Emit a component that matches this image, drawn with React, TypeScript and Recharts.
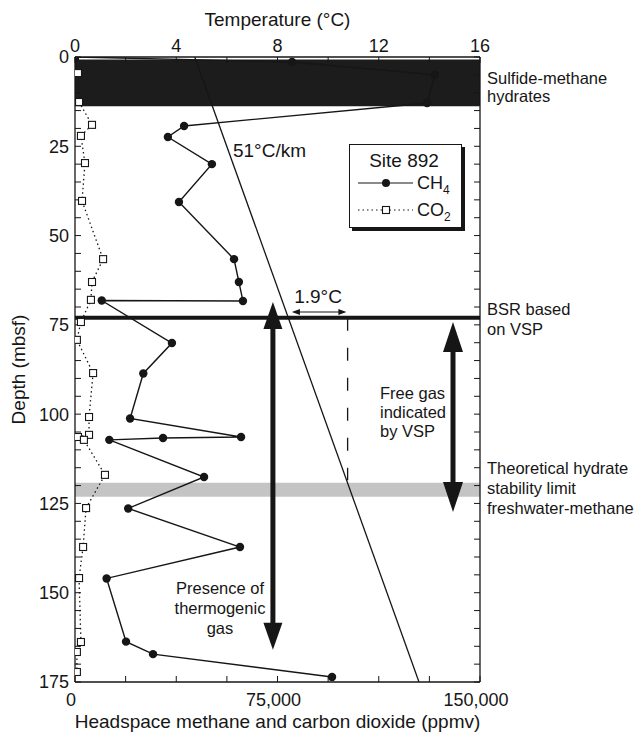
import {
  ScatterChart, Scatter, XAxis, YAxis, ReferenceArea, ReferenceLine, ReferenceDot, Legend
} from 'recharts';

document.body.style.margin = '0';

const FONT = '"Liberation Sans", Arial, Helvetica, sans-serif';
const INK = '#161616';

// headspace CH4 (ppmv) against depth (mbsf), in drilling order
const ch4Depth = [0, 1.4, 5.0, 12.9, 19.3, 22.4, 30.0, 40.6, 56.6, 63.0, 68.3, 68.2, 80.1, 88.6, 101.2, 106.4, 106.7, 107.2, 117.6, 126.4, 137.2, 146.0, 163.7, 167.2, 173.6];
const ch4Ppmv = [0, 80400, 133300, 130400, 40400, 34400, 50700, 38500, 58900, 60700, 62200, 9900, 35900, 25300, 20400, 61500, 32600, 12700, 47800, 19700, 61100, 11700, 18900, 28900, 95200];

// headspace CO2 (ppmv)
const co2Depth = [0, 4.5, 12.6, 19.0, 22.1, 29.7, 40.3, 56.6, 63.0, 68.0, 74.2, 79.2, 88.5, 100.8, 105.8, 106.4, 107.2, 117.0, 126.3, 137.2, 145.9, 163.8, 166.6, 172.2];
const co2Ppmv = [0, 1100, 1500, 6300, 2200, 3700, 2600, 10400, 6300, 5900, 2200, 700, 6700, 5200, 5200, 1100, 3300, 11100, 4100, 3000, 1500, 2200, 700, 700];

// 51 °C/km gradient, end points
const gradDepth = [0, 175];
const gradTemp = [4.73, 13.59];

const tempTicks = [0, 2, 4, 6, 8, 10, 12, 14, 16];
const ppmTicks = [0, 18750, 37500, 56250, 75000, 93750, 112500, 131250, 150000];
const depthTicks = Array.from({ length: 36 }, (_, i) => i * 5);

const hydrateBand = [0.7, 13.8];
const bsrDepth = 73;
const stabilityBand = [119.2, 123.1];

const ch4 = ch4Depth.map((depth, i) => ({ depth, ppm: ch4Ppmv[i] }));
const co2 = co2Depth.map((depth, i) => ({ depth, ppm: co2Ppmv[i] }));
const grad = gradDepth.map((depth, i) => ({ depth, temp: gradTemp[i] }));

const fmtPpm = (v: number) => (v % 75000 === 0 ? String(v).replace(/\B(?=(\d{3})+(?!\d))/g, ',') : '');

const stacked = (lines: string[], o: { dx?: number; dy?: number; gap?: number; anchor?: string; size?: number }) =>
  (props: any) => {
    const vb = props.viewBox || {};
    const x = (vb.x ?? 0) + (vb.width ?? 0) + (o.dx ?? 0);
    const y = (vb.y ?? 0) + (vb.height ?? 0) / 2 + (o.dy ?? 0);
    return (
      <text x={x} y={y} textAnchor={o.anchor ?? 'start'} fontSize={o.size ?? 16.5} fill={INK} fontFamily={FONT}>
        {lines.map((l, i) => (
          <tspan key={i} x={x} dy={i === 0 ? 0 : o.gap ?? 19}>{l}</tspan>
        ))}
      </text>
    );
  };

const bigArrow = (head: number, width: number) => (p: any) => {
  const top = Math.min(p.y1, p.y2);
  const bot = Math.max(p.y1, p.y2);
  const x = p.x1;
  return (
    <g>
      <line x1={x} x2={x} y1={top + head - 2} y2={bot - head + 2} stroke={INK} strokeWidth={5} />
      <polygon points={`${x},${top} ${x - width / 2},${top + head} ${x + width / 2},${top + head}`} fill={INK} />
      <polygon points={`${x},${bot} ${x - width / 2},${bot - head} ${x + width / 2},${bot - head}`} fill={INK} />
    </g>
  );
};

const thinArrow = (p: any) => {
  const l = Math.min(p.x1, p.x2);
  const r = Math.max(p.x1, p.x2);
  const y = p.y1;
  return (
    <g>
      <line x1={l + 2} x2={r - 2} y1={y} y2={y} stroke={INK} strokeWidth={1.1} />
      <polygon points={`${l},${y} ${l + 8},${y - 3} ${l + 8},${y + 3}`} fill={INK} />
      <polygon points={`${r},${y} ${r - 8},${y - 3} ${r - 8},${y + 3}`} fill={INK} />
    </g>
  );
};

const Dot = (p: any) => <circle cx={p.cx} cy={p.cy} r={4.2} fill={INK} />;
const Square = (p: any) => (
  <rect x={p.cx - 3.5} y={p.cy - 3.5} width={7} height={7} fill="#fff" stroke={INK} strokeWidth={1.1} />
);
const NoMark = () => <g />;

const SiteLegend = () => (
  <div style={{ width: 113, height: 84, boxSizing: 'border-box', border: `1px solid ${INK}`, boxShadow: `3px 3px 0 ${INK}`, background: '#fff' }}>
    <svg width={111} height={82} style={{ display: 'block' }} fontFamily={FONT}>
      <text x={54} y={22} textAnchor="middle" fontSize={19} fill={INK}>Site 892</text>
      <line x1={8} x2={63} y1={38} y2={38} stroke={INK} strokeWidth={1.2} />
      <circle cx={36} cy={38} r={4} fill={INK} />
      <text x={67} y={44} fontSize={18} fill={INK}>CH<tspan fontSize={12} dy={5}>4</tspan></text>
      <line x1={8} x2={63} y1={65} y2={65} stroke={INK} strokeWidth={1.2} strokeDasharray="1.5 3" />
      <rect x={32.5} y={61.5} width={7} height={7} fill="#fff" stroke={INK} strokeWidth={1.1} />
      <text x={67} y={71} fontSize={18} fill={INK}>CO<tspan fontSize={12} dy={5}>2</tspan></text>
    </svg>
  </div>
);

const tick = { fontSize: 18, fill: INK };
const axisLine = { stroke: INK, strokeWidth: 1.3 };

export default function App() {
  return (
    <div style={{ fontFamily: FONT, background: '#fff' }}>
      <ScatterChart width={634} height={732} margin={{ top: 0, right: 144, bottom: 0, left: 0 }}>
        <XAxis
          xAxisId="ppm" type="number" dataKey="ppm" orientation="bottom" height={50}
          domain={[0, 150000]} ticks={ppmTicks} interval={0} allowDataOverflow
          tickFormatter={fmtPpm} tick={{ ...tick, dx: -4 }} tickSize={-6} tickMargin={17}
          axisLine={axisLine} tickLine={{ stroke: INK }}
          label={{ value: 'Headspace methane and carbon dioxide (ppmv)', position: 'insideBottom', offset: 4, fontSize: 19, fill: INK }}
        />
        <XAxis
          xAxisId="temp" type="number" dataKey="temp" orientation="top" height={57}
          domain={[0, 16]} ticks={tempTicks} interval={0} allowDataOverflow
          tickFormatter={(v: number) => (v % 4 === 0 ? String(v) : '')} tick={tick} tickSize={-6} tickMargin={11}
          axisLine={axisLine} tickLine={{ stroke: INK }}
          label={{ value: 'Temperature (°C)', position: 'insideTop', offset: 13, fontSize: 19, fill: INK }}
        />
        <YAxis
          yAxisId="depth" type="number" dataKey="depth" width={75} reversed
          domain={[0, 175]} ticks={depthTicks} interval={0} allowDataOverflow
          tickFormatter={(v: number) => (v % 25 === 0 ? String(v) : '')} tick={tick} tickSize={-6} tickMargin={12}
          axisLine={axisLine} tickLine={{ stroke: INK }}
          label={{ value: 'Depth (mbsf)', angle: -90, position: 'insideLeft', offset: 18, fontSize: 19, fill: INK, style: { textAnchor: 'middle' } }}
        />
        <YAxis
          yAxisId="depthR" type="number" dataKey="depth" orientation="right" width={10} reversed
          domain={[0, 175]} ticks={depthTicks} interval={0} allowDataOverflow
          tickFormatter={() => ''} tickSize={-6} tickMargin={2}
          axisLine={axisLine} tickLine={{ stroke: INK }}
        />

        <ReferenceArea
          xAxisId="ppm" yAxisId="depth" y1={hydrateBand[0]} y2={hydrateBand[1]}
          fill="#1c1c1c" fillOpacity={1} stroke="none"
          label={stacked(['Sulfide-methane', 'hydrates'], { dx: 7, dy: 1, gap: 18 })}
        />
        <ReferenceArea
          xAxisId="ppm" yAxisId="depth" y1={stabilityBand[0]} y2={stabilityBand[1]}
          fill="#c4c4c4" fillOpacity={1} stroke="none"
          label={stacked(['Theoretical hydrate', 'stability limit', 'freshwater-methane'], { dx: 7, dy: -16, gap: 20 })}
        />

        <Scatter
          name="temperature" data={grad} xAxisId="temp" yAxisId="depth"
          shape={NoMark} line={{ stroke: INK, strokeWidth: 1.3 }} lineType="joint" isAnimationActive={false}
        />
        <Scatter
          name="CO2" data={co2} xAxisId="ppm" yAxisId="depth"
          shape={Square} line={{ stroke: INK, strokeWidth: 1.3, strokeDasharray: '1.5 3' }} lineType="joint" isAnimationActive={false}
        />
        <Scatter
          name="CH4" data={ch4} xAxisId="ppm" yAxisId="depth"
          shape={Dot} line={{ stroke: INK, strokeWidth: 1.4 }} lineType="joint" isAnimationActive={false}
        />

        <ReferenceLine
          xAxisId="ppm" yAxisId="depth" y={bsrDepth} stroke={INK} strokeWidth={4}
          label={stacked(['BSR based', 'on VSP'], { dx: 7, dy: -3, gap: 20 })}
        />
        <ReferenceLine
          xAxisId="temp" yAxisId="depth"
          segment={[{ x: 10.77, y: bsrDepth }, { x: 10.77, y: 118.5 }]}
          stroke={INK} strokeWidth={1.3} strokeDasharray="13 17"
        />
        <ReferenceLine
          xAxisId="temp" yAxisId="depth"
          segment={[{ x: 8.57, y: 71.4 }, { x: 10.72, y: 71.4 }]}
          shape={thinArrow}
        />
        <ReferenceLine
          xAxisId="ppm" yAxisId="depth"
          segment={[{ x: 73300, y: 68.6 }, { x: 73300, y: 166 }]}
          shape={bigArrow(27, 19)}
        />
        <ReferenceLine
          xAxisId="ppm" yAxisId="depth"
          segment={[{ x: 140000, y: 74.2 }, { x: 140000, y: 127.4 }]}
          shape={bigArrow(30, 20)}
        />

        <ReferenceDot xAxisId="temp" yAxisId="depth" x={6.24} y={28} r={0} fill="none" stroke="none"
          label={stacked(['51°C/km'], { size: 19 })} />
        <ReferenceDot xAxisId="temp" yAxisId="depth" x={9.6} y={68.9} r={0} fill="none" stroke="none"
          label={stacked(['1.9°C'], { size: 19, anchor: 'middle' })} />
        <ReferenceDot xAxisId="ppm" yAxisId="depth" x={112960} y={95.8} r={0} fill="none" stroke="none"
          label={stacked(['Free gas', 'indicated', 'by VSP'], { gap: 19 })} />
        <ReferenceDot xAxisId="ppm" yAxisId="depth" x={53700} y={150.4} r={0} fill="none" stroke="none"
          label={stacked(['Presence of', 'thermogenic', 'gas'], { gap: 20, anchor: 'middle' })} />

        <Legend
          layout="vertical" verticalAlign="middle" align="center" width={113} height={84}
          wrapperStyle={{ left: 349, top: 144, width: 113, height: 84 }}
          content={() => <SiteLegend />}
        />
      </ScatterChart>
    </div>
  );
}
